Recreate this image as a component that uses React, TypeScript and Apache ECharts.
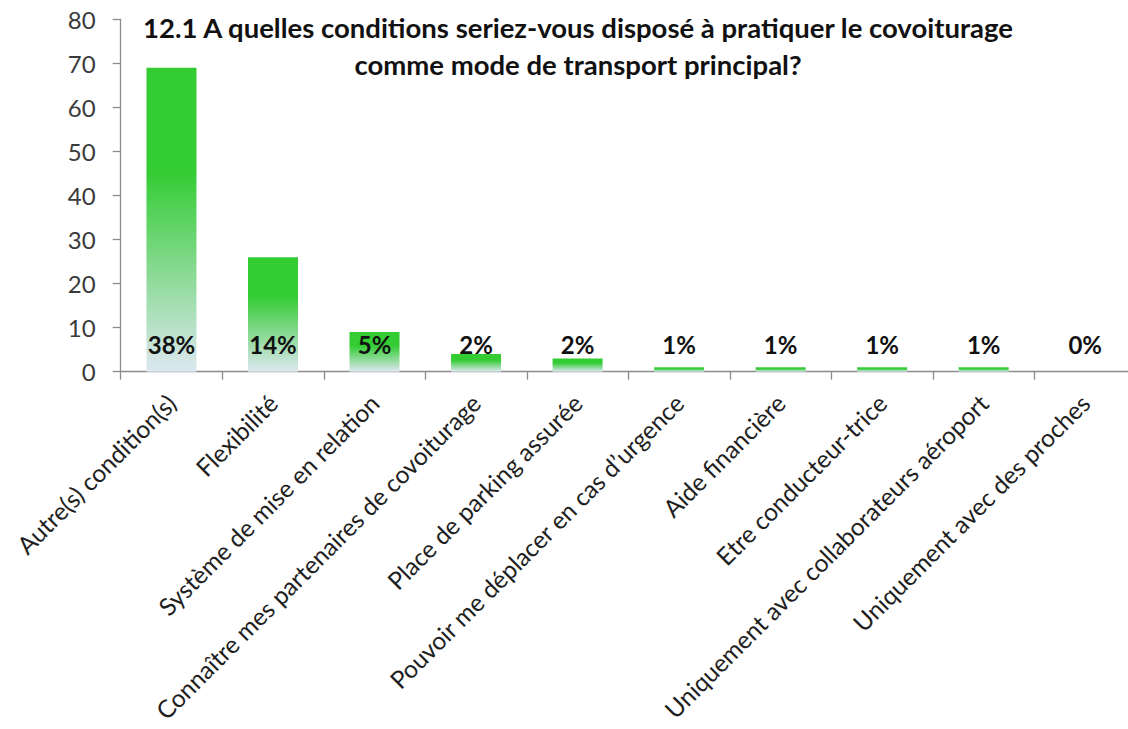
import React, { useEffect, useRef } from "react";
import * as echarts from "echarts";

const categories = [
  "Autre(s) condition(s)",
  "Flexibilité",
  "Système de mise en relation",
  "Connaître mes partenaires de covoiturage",
  "Place de parking assurée",
  "Pouvoir me déplacer en cas d’urgence",
  "Aide financière",
  "Etre conducteur-trice",
  "Uniquement avec collaborateurs aéroport",
  "Uniquement avec des proches",
];
const counts = [69, 26, 9, 4, 3, 1, 1, 1, 1, 0];
const percentLabels = ["38%", "14%", "5%", "2%", "2%", "1%", "1%", "1%", "1%", "0%"];
const yTicks = { min: 0, max: 80, interval: 10 };
const titleText =
  "12.1 A quelles conditions seriez-vous disposé à pratiquer le covoiturage\ncomme mode de transport principal?";

const FONT = "Lato, 'DejaVu Sans', sans-serif";

export default function App() {
  const ref = useRef<HTMLDivElement>(null);
  useEffect(() => {
    if (!ref.current) return;
    const chart = echarts.init(ref.current, undefined, { renderer: "svg" });
    const barColor = new echarts.graphic.LinearGradient(0, 0, 0, 1, [
      { offset: 0, color: "#33cc33" },
      { offset: 0.34, color: "#33cc33" },
      { offset: 1, color: "#dde7f1" },
    ]);
    chart.setOption({
      animation: false,
      backgroundColor: "#ffffff",
      textStyle: { fontFamily: FONT },
      title: {
        text: titleText,
        left: 578,
        textAlign: "center",
        top: 9,
        padding: 0,
        textStyle: {
          fontFamily: FONT,
          fontSize: 27.5,
          fontWeight: "bold",
          color: "#111111",
          lineHeight: 37,
        },
      },
      grid: {
        left: 120.7,
        top: 19.3,
        bottom: 357.3,
        right: -8,
        containLabel: false,
        outerBoundsMode: "none",
      },
      xAxis: {
        type: "category",
        data: categories,
        axisLine: { show: true, lineStyle: { color: "#8c8c8c", width: 1.3 } },
        axisTick: { show: true, length: 8, lineStyle: { color: "#8c8c8c", width: 1.3 } },
        axisLabel: {
          interval: 0,
          rotate: 45,
          margin: 27,
          fontFamily: FONT,
          fontSize: 24.5,
          color: "#1e1e1e",
        },
      },
      yAxis: {
        type: "value",
        min: yTicks.min,
        max: yTicks.max,
        interval: yTicks.interval,
        splitLine: { show: false },
        axisLine: { show: true, lineStyle: { color: "#8c8c8c", width: 1.3 } },
        axisTick: { show: true, length: 8, lineStyle: { color: "#8c8c8c", width: 1.3 } },
        axisLabel: {
          margin: 25,
          fontFamily: FONT,
          fontSize: 24,
          color: "#3a3a3a",
        },
      },
      series: [
        {
          type: "bar",
          data: counts,
          barWidth: 50,
          itemStyle: { color: barColor },
          label: {
            show: true,
            position: "insideBottom",
            distance: 15,
            fontFamily: FONT,
            fontSize: 24,
            fontWeight: "bold",
            color: "#111111",
            formatter: (p: any) => percentLabels[p.dataIndex],
          },
        },
      ],
    });
    return () => chart.dispose();
  }, []);
  return (
    <div
      ref={ref}
      style={{ position: "absolute", left: 0, top: 0, width: 1128, height: 729 }}
    />
  );
}
